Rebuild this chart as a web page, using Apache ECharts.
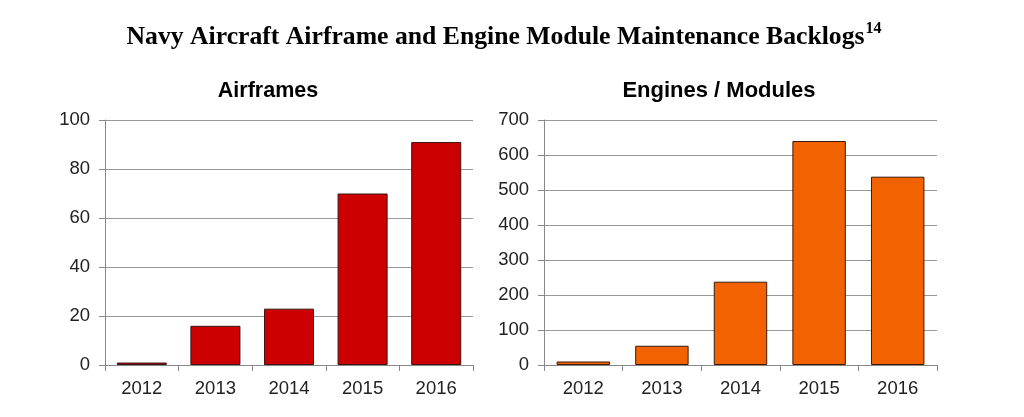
<!DOCTYPE html>
<html>
<head>
<meta charset="utf-8">
<script src="https://cdn.jsdelivr.net/npm/echarts@6/dist/echarts.min.js"></script>
<style>html,body{margin:0;padding:0;background:#fff;}#c{width:1024px;height:417px;}</style>
</head>
<body>
<div id="c"></div>
<script>
const years = ['2012', '2013', '2014', '2015', '2016'];
const airframes = [1, 16, 23, 70, 91];
const engines = [10, 55, 238, 640, 538];
const airframeTicks = {min: 0, max: 100, interval: 20};
const engineTicks = {min: 0, max: 700, interval: 100};

const chart = echarts.init(document.getElementById('c'), null, {renderer: 'canvas'});
const axisFont = {fontFamily: 'Liberation Sans, Arial, sans-serif', fontSize: 18.5, color: '#222'};
function xAx(gi) {
  return {
    type: 'category', gridIndex: gi, data: years, boundaryGap: true,
    axisLine: {show: true, lineStyle: {color: '#888', width: 1}},
    axisTick: {show: true, alignWithLabel: false, length: 6, lineStyle: {color: '#888'}},
    axisLabel: Object.assign({margin: 14}, axisFont)
  };
}
function yAx(gi, t) {
  return {
    type: 'value', gridIndex: gi, min: t.min, max: t.max, interval: t.interval,
    axisLine: {show: true, lineStyle: {color: '#888', width: 1}},
    axisTick: {show: true, length: 6, lineStyle: {color: '#888'}},
    splitLine: {show: true, lineStyle: {color: '#999', width: 1}},
    axisLabel: Object.assign({margin: 15}, axisFont)
  };
}
chart.setOption({
  backgroundColor: '#fff',
  animation: false,
  title: [
    {
      text: '{a|Navy Aircraft Airframe and Engine Module Maintenance Backlogs}{b|14}',
      left: 499, top: 16, textAlign: 'center',
      textStyle: {
        rich: {
          a: {fontFamily: 'Liberation Serif, Times New Roman, serif', fontWeight: 'bold', fontSize: 25.7, color: '#000', lineHeight: 32},
          b: {fontFamily: 'Liberation Serif, Times New Roman, serif', fontWeight: 'bold', fontSize: 16, color: '#000', verticalAlign: 'top', lineHeight: 32, padding: [0, 0, 0, 1]}
        }
      }
    },
    {
      text: 'Airframes', left: 263, top: 75, textAlign: 'center',
      textStyle: {fontFamily: 'Liberation Sans, Arial, sans-serif', fontWeight: 'bold', fontSize: 21.5, color: '#000'}
    },
    {
      text: 'Engines / Modules', left: 714, top: 75, textAlign: 'center',
      textStyle: {fontFamily: 'Liberation Sans, Arial, sans-serif', fontWeight: 'bold', fontSize: 22, color: '#000'}
    }
  ],
  grid: [
    {left: 105, top: 120, width: 368, height: 245},
    {left: 544, top: 120, width: 393, height: 245}
  ],
  xAxis: [xAx(0), xAx(1)],
  yAxis: [yAx(0, airframeTicks), yAx(1, engineTicks)],
  series: [
    {
      type: 'bar', xAxisIndex: 0, yAxisIndex: 0, data: airframes, barWidth: '68%',
      itemStyle: {color: '#CC0000', borderColor: '#3a1414', borderWidth: 1}
    },
    {
      type: 'bar', xAxisIndex: 1, yAxisIndex: 1, data: engines, barWidth: '68%',
      itemStyle: {color: '#F26200', borderColor: '#3a1a0a', borderWidth: 1}
    }
  ]
});
</script>
</body>
</html>
